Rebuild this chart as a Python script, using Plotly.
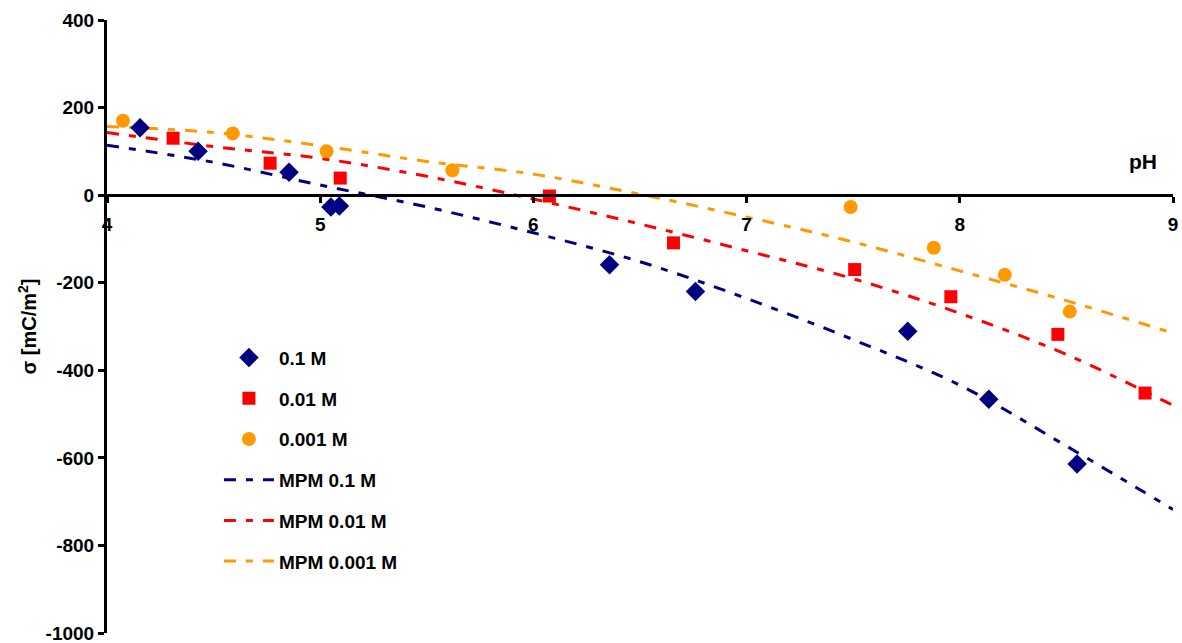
import plotly.graph_objects as go

# Measured data points
ph_01 = [4.155, 4.427, 4.854, 5.05, 5.09, 6.357, 6.76, 7.756, 8.136, 8.55]
sig_01 = [154, 100, 52, -27, -25, -159, -220, -311, -466, -614]

ph_001 = [4.31, 4.765, 5.094, 6.075, 6.657, 7.507, 7.958, 8.46, 8.869]
sig_001 = [130, 73, 39, -2, -109, -170, -232, -318, -452]

ph_0001 = [4.075, 4.59, 5.03, 5.62, 7.488, 7.878, 8.211, 8.516]
sig_0001 = [170, 141, 100, 57, -27, -120, -182, -266]

# MPM model curves
ph_model = [4.0, 4.5, 5.0, 5.5, 6.0, 6.5, 7.0, 7.5, 8.0, 8.5, 9.0]
mpm_01 = [114, 75, 23, -27, -86, -152, -236, -330, -434, -573, -718]
mpm_001 = [143, 111, 84, 43, -9, -66, -127, -191, -270, -364, -480]
mpm_0001 = [157, 143, 113, 77, 48, 2, -50, -107, -173, -241, -315]

x_ticks = [4, 5, 6, 7, 8, 9]
y_ticks = [-1000, -800, -600, -400, -200, 0, 200, 400]

NAVY = "#000080"
RED = "#FF0000"
ORANGE = "#FF9900"
FONT = "Liberation Sans, Arial, sans-serif"
DASH = "12px,10px,7px,10px"

fig = go.Figure()

for name, ys, col, rank in [("MPM 0.1 M", mpm_01, NAVY, 4),
                            ("MPM 0.01 M", mpm_001, RED, 5),
                            ("MPM 0.001 M", mpm_0001, ORANGE, 6)]:
    fig.add_trace(go.Scatter(x=ph_model, y=ys, mode="lines", name=name,
                             line=dict(color=col, width=3, dash=DASH, shape="spline"),
                             legendgroup=name, legendrank=rank))

for name, xs, ys, col, sym, size, rank in [
        ("0.1 M", ph_01, sig_01, NAVY, "diamond", 15, 1),
        ("0.01 M", ph_001, sig_001, RED, "square", 13, 2),
        ("0.001 M", ph_0001, sig_0001, ORANGE, "circle", 14, 3)]:
    fig.add_trace(go.Scatter(x=xs, y=ys, mode="markers", name=name,
                             marker=dict(color=col, symbol=sym, size=size, line=dict(width=0)),
                             legendgroup=name, legendrank=rank))

fig.update_layout(
    width=1182, height=643,
    margin=dict(l=107, r=9, t=20, b=10, autoexpand=False),
    paper_bgcolor="white", plot_bgcolor="white",
    font=dict(family=FONT, size=19, color="black", weight="bold"),
    showlegend=True,
    legend=dict(x=0.105, y=0.48, xanchor="left", yanchor="top",
                traceorder="grouped", tracegroupgap=13, itemwidth=50,
                bgcolor="rgba(0,0,0,0)",
                font=dict(family=FONT, size=19, color="black", weight="bold")),
    xaxis=dict(range=[4, 9], tickvals=x_ticks, ticktext=[str(v) for v in x_ticks],
               showgrid=False, zeroline=False, showline=True, linecolor="black", linewidth=3,
               ticks="outside", ticklen=6, tickwidth=3, tickcolor="black",
               anchor="free", position=1000 / 1400, ticklabelstandoff=5,
               ticklabeloverflow="allow", automargin=False,
               tickfont=dict(family=FONT, size=19, color="black", weight="bold")),
    yaxis=dict(range=[-1000, 400], tickvals=y_ticks, ticktext=[str(v) for v in y_ticks],
               showgrid=False, zeroline=False, showline=True, linecolor="black", linewidth=3,
               ticks="outside", ticklen=6, tickwidth=3, tickcolor="black",
               ticklabeloverflow="allow", automargin=False,
               tickfont=dict(family=FONT, size=19, color="black", weight="bold"),
               title=dict(text="σ [mC/m<sup>2</sup>]", standoff=4,
                          font=dict(family=FONT, size=20, color="black", weight="bold"))),
    annotations=[dict(x=8.86, y=77, xref="x", yref="y", text="pH", showarrow=False,
                      font=dict(family=FONT, size=21, color="black", weight="bold"))],
)

fig.write_html("out.html", config={"displayModeBar": False},
               post_script="document.body.style.margin='0';")
